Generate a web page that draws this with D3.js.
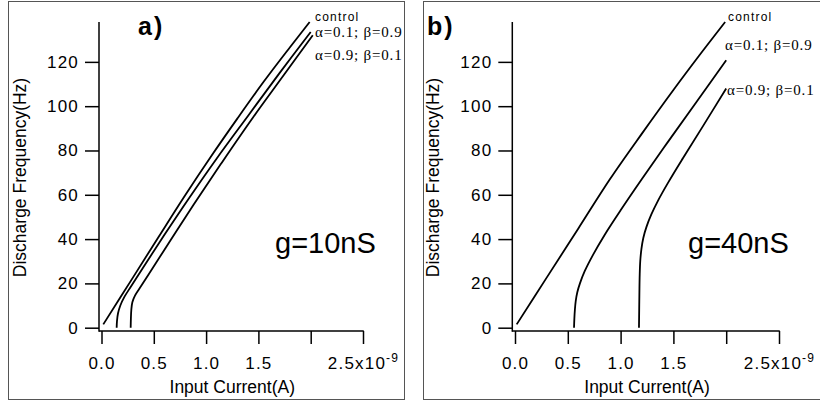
<!DOCTYPE html>
<html>
<head>
<meta charset="utf-8">
<script src="https://cdn.jsdelivr.net/npm/d3@7"></script>
<style>
  body { margin: 0; background: #fff; }
  svg { display: block; }
  .tick text { font-family: "Liberation Sans", Arial, sans-serif; }
</style>
</head>
<body>
<script>
// f-I curves, current in nA (axis shows x10^-9 A), frequency in Hz
var seriesNames = ["control", "α=0.1; β=0.9", "α=0.9; β=0.1"];

// panel a) g=10nS
var a_control = [[0.017, 1.5], [0.3, 22.6], [0.55, 41.3], [0.8, 59.8], [1.05, 77.5], [1.3, 94.5],
                 [1.55, 111], [1.8, 126.5], [1.99, 138]];
var a_alpha01 = [[0.145, 0], [0.148, 3], [0.158, 6.5], [0.18, 10], [0.22, 14], [0.28, 18.5], [0.40, 27.3],
                 [0.60, 41.8], [0.83, 58], [1.1, 76.3], [1.4, 95.6], [1.7, 114.8], [2.0, 133.5]];
var a_alpha09 = [[0.279, 0], [0.281, 4], [0.285, 8], [0.295, 11.5], [0.32, 14.5], [0.36, 17.5], [0.45, 24],
                 [0.66, 39.5], [0.88, 55.5], [1.15, 74.5], [1.45, 95], [1.75, 114.5], [2.02, 132]];

// panel b) g=40nS
var b_control = [[0.016, 1.5], [0.3, 22.6], [0.6, 44.8], [0.9, 67.1], [1.2, 87.5], [1.5, 107.3],
                 [1.75, 123.2], [1.99, 138]];
var b_alpha01 = [[0.559, 0], [0.562, 4], [0.567, 8], [0.575, 12], [0.59, 16], [0.615, 20], [0.66, 25.5],
                 [0.74, 33], [0.85, 42], [1.0, 53], [1.2, 67], [1.45, 84], [1.72, 102], [2.0, 120.7]];
var b_alpha09 = [[1.174, 0], [1.176, 8], [1.178, 16], [1.181, 24], [1.186, 30], [1.197, 35.5], [1.215, 40.5],
                 [1.245, 45.5], [1.29, 51], [1.357, 57.6], [1.45, 65.5], [1.59, 76.5], [1.78, 91], [2.0, 108]];

// axes
var xTicks = [0, 0.5, 1.0, 1.5, 2.0, 2.5];
var xTickLabels = ["0.0", "0.5", "1.0", "1.5", "", "2.5x10"];
var xExponent = "-9";
var xDomain = [0, 2.5];
var yTicks = [0, 20, 40, 60, 80, 100, 120];
var yDomain = [0, 138];

var panels = [
  { tag: "a)", gLabel: "g=10nS", series: [a_control, a_alpha01, a_alpha09],
    frame: [8, 1, 404, 399], axisX: 99, xRange: [101.5, 363], axisY: 331,
    yTitleX: 26, tagX: 138, gX: 275,
    legend: [[315, 20.5], [315, 37], [315, 60]] },
  { tag: "b)", gLabel: "g=40nS", series: [b_control, b_alpha01, b_alpha09],
    frame: [423, 1, 840, 399], axisX: 512.3, xRange: [515, 779], axisY: 331,
    yTitleX: 439, tagX: 427, gX: 688,
    legend: [[728, 21], [725, 50], [727, 95]] }
];

var width = 820, height = 402;

var svg = d3.select("body")
    .append("svg")
    .attr("width", width)
    .attr("height", height);

panels.forEach(function(p) {

    // frame round the panel
    svg.append("rect")
        .attr("x", p.frame[0] + 0.5)
        .attr("y", p.frame[1] + 0.5)
        .attr("width", p.frame[2] - p.frame[0])
        .attr("height", p.frame[3] - p.frame[1])
        .attr("fill", "none")
        .attr("stroke", "#555")
        .attr("stroke-width", 1);

    var x = d3.scaleLinear().domain(xDomain).range(p.xRange);
    var y = d3.scaleLinear().domain(yDomain).range([327.7, 22]);

    // Y axis
    var gy = svg.append("g")
        .attr("transform", "translate(" + p.axisX + ",0)")
        .call(d3.axisLeft(y).tickValues(yTicks).tickSize(14).tickSizeOuter(0).tickPadding(6));
    gy.select(".domain").remove();
    gy.selectAll(".tick line").attr("stroke", "#000").attr("stroke-width", 1.5);
    gy.selectAll(".tick text")
        .style("font-size", "17px")
        .style("letter-spacing", "1.2px")
        .attr("fill", "#000");

    // X axis
    var gx = svg.append("g")
        .attr("transform", "translate(0," + p.axisY + ")")
        .call(d3.axisBottom(x).tickValues(xTicks).tickSize(13).tickSizeOuter(0).tickPadding(13)
            .tickFormat(function(d, i) { return xTickLabels[i]; }));
    gx.select(".domain").remove();
    gx.selectAll(".tick line").attr("stroke", "#000").attr("stroke-width", 1.5);
    gx.selectAll(".tick text")
        .style("font-size", "17px")
        .style("letter-spacing", "1.2px")
        .attr("fill", "#000");
    gx.selectAll(".tick text")
        .filter(function(d, i) { return i === xTicks.length - 1; })
        .append("tspan")
        .attr("dy", "-0.55em")
        .style("font-size", "12px")
        .text(xExponent);

    // axis lines
    svg.append("line")
        .attr("x1", p.axisX).attr("x2", p.axisX)
        .attr("y1", y(yDomain[1])).attr("y2", p.axisY + 0.75)
        .attr("stroke", "#000").attr("stroke-width", 1.5);
    svg.append("line")
        .attr("x1", p.axisX).attr("x2", x(xDomain[1]) + 0.75)
        .attr("y1", p.axisY).attr("y2", p.axisY)
        .attr("stroke", "#000").attr("stroke-width", 1.5);

    // axis titles
    svg.append("text")
        .attr("transform", "translate(" + p.yTitleX + ",177.5) rotate(-90)")
        .attr("text-anchor", "middle")
        .style("font-family", "'Liberation Sans', Arial, sans-serif")
        .style("font-size", "17.5px")
        .text("Discharge Frequency(Hz)");

    svg.append("text")
        .attr("x", (p.xRange[0] + p.xRange[1]) / 2)
        .attr("y", 393)
        .attr("text-anchor", "middle")
        .style("font-family", "'Liberation Sans', Arial, sans-serif")
        .style("font-size", "17.5px")
        .text("Input Current(A)");

    // curves
    var line = d3.line()
        .x(function(d) { return x(d[0]); })
        .y(function(d) { return y(d[1]); })
        .curve(d3.curveCatmullRom.alpha(0.5));

    svg.append("g")
        .selectAll("path")
        .data(p.series)
        .enter()
        .append("path")
        .attr("d", line)
        .attr("fill", "none")
        .attr("stroke", "#000")
        .attr("stroke-width", 1.8);

    // curve labels
    svg.append("g")
        .selectAll("text")
        .data(seriesNames)
        .enter()
        .append("text")
        .attr("x", function(d, i) { return p.legend[i][0]; })
        .attr("y", function(d, i) { return p.legend[i][1]; })
        .style("font-family", function(d, i) {
            return i === 0 ? "'Liberation Sans', Arial, sans-serif" : "'Liberation Serif', 'Times New Roman', serif"; })
        .style("font-size", function(d, i) { return i === 0 ? "12px" : "15px"; })
        .style("letter-spacing", function(d, i) { return i === 0 ? "1.2px" : "0.8px"; })
        .text(function(d) { return d; });

    // panel tag and conductance
    svg.append("text")
        .attr("x", p.tagX)
        .attr("y", 35)
        .style("font-family", "'Liberation Sans', Arial, sans-serif")
        .style("font-size", "25px")
        .style("font-weight", "bold")
        .style("letter-spacing", "2px")
        .text(p.tag);

    svg.append("text")
        .attr("x", p.gX)
        .attr("y", 253)
        .style("font-family", "'Liberation Sans', Arial, sans-serif")
        .style("font-size", "29px")
        .text(p.gLabel);
});
</script>
</body>
</html>
